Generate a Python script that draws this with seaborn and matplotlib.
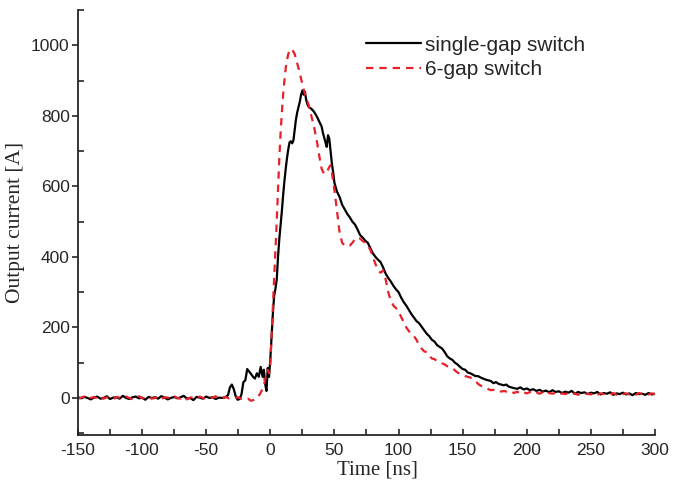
import numpy as np
import pandas as pd
import matplotlib
matplotlib.use("Agg")
import matplotlib.pyplot as plt
from matplotlib.ticker import MultipleLocator
import seaborn as sns

# ---- data ----
# single-gap switch (black, solid)
base_t1 = list(np.arange(-150, -36, 2.5))
base_i1 = [2, -1, 3, 0, -4, 1, 4, -2, 0, 5, -3, 1, 2, -2, 6, 0, -3, 2, 4, -1, 1, -5, 3, 0,
           2, -2, 5, 1, -4, 0, 3, -1, 2, 6, -2, 0, -6, 3, 1, -2, 4, 0, 2, -3, 1, 0]
rise_t1 = [-35, -33, -31.5, -30, -28.5, -27, -25.5, -24, -22.5, -21, -19.5, -18, -16.5, -15,
           -13.5, -12, -10.5, -9, -7.5, -6, -5, -4, -3, -2, -1, 0, 1, 2, 3, 4, 5, 6, 7, 8, 9,
           10, 11, 12, 13, 14, 15, 16, 17, 18, 19, 20, 21, 22, 23, 24, 25, 26, 27, 28, 29, 30]
rise_i1 = [2, 8, 30, 38, 25, 5, -5, -3, 10, 45, 50, 82, 75, 68,
           60, 55, 70, 60, 88, 60, 80, 40, 20, 85, 60, 110, 175, 240, 290, 310, 335, 400, 450, 490, 530,
           575, 615, 650, 680, 705, 725, 728, 722, 730, 760, 790, 810, 825, 840, 860, 872, 860, 868, 845, 832, 825]
fall_t1 = [32, 34, 36, 38, 40, 41, 42, 43, 44, 45, 46, 47, 48, 49, 50, 52, 54, 56, 58, 60, 62, 64,
           66, 68, 70, 72, 74, 76, 78, 80, 82, 84, 86, 88, 90, 92, 94, 96, 98, 100, 102, 104, 106,
           108, 110, 112, 114, 116, 118, 120, 122, 124, 126, 128, 130, 132, 134, 136, 138, 140, 142,
           144, 146, 148, 150, 152, 154, 156, 158, 160, 162, 164, 166, 168, 170, 172, 174, 176, 178,
           180, 182, 184, 186, 188, 190]
fall_i1 = [820, 812, 800, 785, 770, 752, 738, 725, 712, 745, 735, 700, 665, 640, 610, 585, 570, 548, 535, 522, 512, 500,
           492, 478, 462, 455, 446, 440, 425, 410, 400, 392, 385, 370, 352, 340, 330, 318, 308, 300, 285, 272, 262,
           250, 238, 228, 218, 212, 202, 192, 182, 175, 165, 160, 150, 145, 140, 130, 118, 112, 108,
           100, 95, 88, 82, 80, 72, 70, 66, 62, 62, 58, 55, 52, 50, 48, 42, 45, 40,
           38, 36, 38, 32, 30, 28]
tail_t1 = list(np.arange(192.5, 300.1, 2.5))
tail_i1 = [26, 30, 24, 27, 22, 25, 20, 23, 18, 21, 16, 22, 17, 19, 14, 18, 15, 20, 12, 17, 14, 16,
           11, 15, 13, 17, 10, 14, 12, 16, 9, 13, 11, 15, 10, 13, 8, 14, 11, 12, 9, 14, 10, 12]

# 6-gap switch (red, dashed)
base_t2 = list(np.arange(-150, -26, 2.5))
base_i2 = [-2, 1, 4, -3, 0, 3, -1, 5, -2, 2, 0, -4, 3, 1, -2, 4, 0, -3, 2, 5, -1, 1, 3, -2,
           0, 4, -3, 2, 1, -1, 5, 0, -2, 3, -4, 1, 2, -1, 4, 0, -3, 2, 1, 5, -2, 0, 3, -1, 2, 0]
rise_t2 = [-25, -22.5, -20, -17.5, -15, -12.5, -10, -7.5, -5, -3, -2, -1, 0, 1, 2, 3, 4, 5, 6, 7, 8,
           9, 10, 11, 12, 13, 14, 15, 16, 17, 18, 19, 20, 22, 24, 26, 28, 30]
rise_i2 = [2, -3, -5, -2, -8, -5, 0, 15, 35, 70, 80, 70, 94, 180, 260, 340, 420, 500, 590, 680, 750,
           810, 860, 900, 935, 958, 975, 985, 990, 988, 982, 975, 962, 935, 905, 875, 850, 830]
fall_t2 = [32, 34, 36, 38, 40, 42, 44, 46, 47, 48, 50, 52, 54, 56, 58, 60, 62, 64, 66, 68, 70, 72,
           74, 76, 78, 80, 82, 84, 86, 88, 90, 92, 94, 96, 98, 100, 102, 104, 106, 108, 110, 112,
           114, 116, 118, 120, 122, 124, 126, 128, 130, 132, 134, 136, 138, 140, 142, 144, 146, 148,
           150, 152, 154, 156, 158, 160, 162, 164, 166, 168, 170, 172, 174, 176, 178, 180]
fall_i2 = [800, 770, 735, 690, 650, 635, 640, 655, 660, 640, 590, 530, 470, 440, 432, 430, 432, 440, 450, 455, 452, 445,
           440, 432, 420, 400, 380, 362, 355, 362, 335, 300, 275, 262, 255, 245, 230, 215, 200, 190, 180, 175,
           165, 150, 140, 132, 130, 120, 112, 110, 105, 100, 98, 95, 90, 88, 85, 78, 72, 68,
           65, 62, 60, 58, 52, 48, 40, 35, 32, 30, 25, 22, 23, 20, 22, 18]
tail_t2 = list(np.arange(182.5, 300.1, 2.5))
tail_i2 = [20, 16, 19, 14, 18, 12, 16, 13, 17, 11, 15, 12, 16, 10, 14, 12, 15, 9, 13, 11, 14, 10,
           13, 9, 14, 11, 12, 10, 15, 9, 13, 11, 12, 10, 14, 9, 12, 11, 13, 10, 12, 9, 14, 11, 12, 10, 13, 11]

t1 = np.array(base_t1 + rise_t1 + fall_t1 + tail_t1)
i1 = np.array(base_i1 + rise_i1 + fall_i1 + tail_i1)
t2 = np.array(base_t2 + rise_t2 + fall_t2 + tail_t2)
i2 = np.array(base_i2 + rise_i2 + fall_i2 + tail_i2)

df1 = pd.DataFrame({"Time [ns]": t1, "Output current [A]": i1})
df2 = pd.DataFrame({"Time [ns]": t2, "Output current [A]": i2})

# ---- plotting ----
sns.set_style("ticks")
plt.rcParams["font.family"] = ["Liberation Sans", "DejaVu Sans"]
plt.rcParams["axes.unicode_minus"] = False

fig = plt.figure(figsize=(6.84, 4.82), dpi=100)
ax = fig.add_axes([0.114, 0.0975, 0.8436, 0.8817])

sns.lineplot(data=df1, x="Time [ns]", y="Output current [A]", ax=ax, color="black",
             linewidth=1.6, label="single-gap switch", sort=False, estimator=None)
sns.lineplot(data=df2, x="Time [ns]", y="Output current [A]", ax=ax, color="#e8202a",
             linewidth=1.6, linestyle=(0, (3.3, 2.7)), label="6-gap switch", sort=False, estimator=None)

ax.set_xlim(-150, 300)
ax.set_ylim(-105, 1100)
ax.xaxis.set_major_locator(MultipleLocator(50))
ax.xaxis.set_minor_locator(MultipleLocator(25))
ax.yaxis.set_major_locator(MultipleLocator(200))
ax.yaxis.set_minor_locator(MultipleLocator(100))
ax.set_yticks(range(0, 1001, 200))

ax.tick_params(axis="x", which="both", direction="in", length=4, width=1.2, labelsize=12.5, pad=6)
ax.tick_params(axis="y", which="major", direction="out", length=4, width=1.2, labelsize=12.5, pad=2)
ax.tick_params(axis="y", which="minor", direction="in", length=4, width=1.2)

for s in ["left", "bottom"]:
    ax.spines[s].set_linewidth(1.3)
sns.despine(ax=ax)

ax.set_xlabel("Time [ns]", family=["Liberation Serif"], fontsize=15)
ax.set_ylabel("Output current [A]", family=["Liberation Serif"], fontsize=15.5)
ax.xaxis.set_label_coords(0.519, -0.061)
ax.yaxis.set_label_coords(-0.092, 0.5)

ax.legend(loc="upper right", bbox_to_anchor=(0.911, 0.984), frameon=False, fontsize=15,
          handlelength=2.6, handletextpad=0.2, labelspacing=0.28)

fig.savefig("out.png", dpi=100)
